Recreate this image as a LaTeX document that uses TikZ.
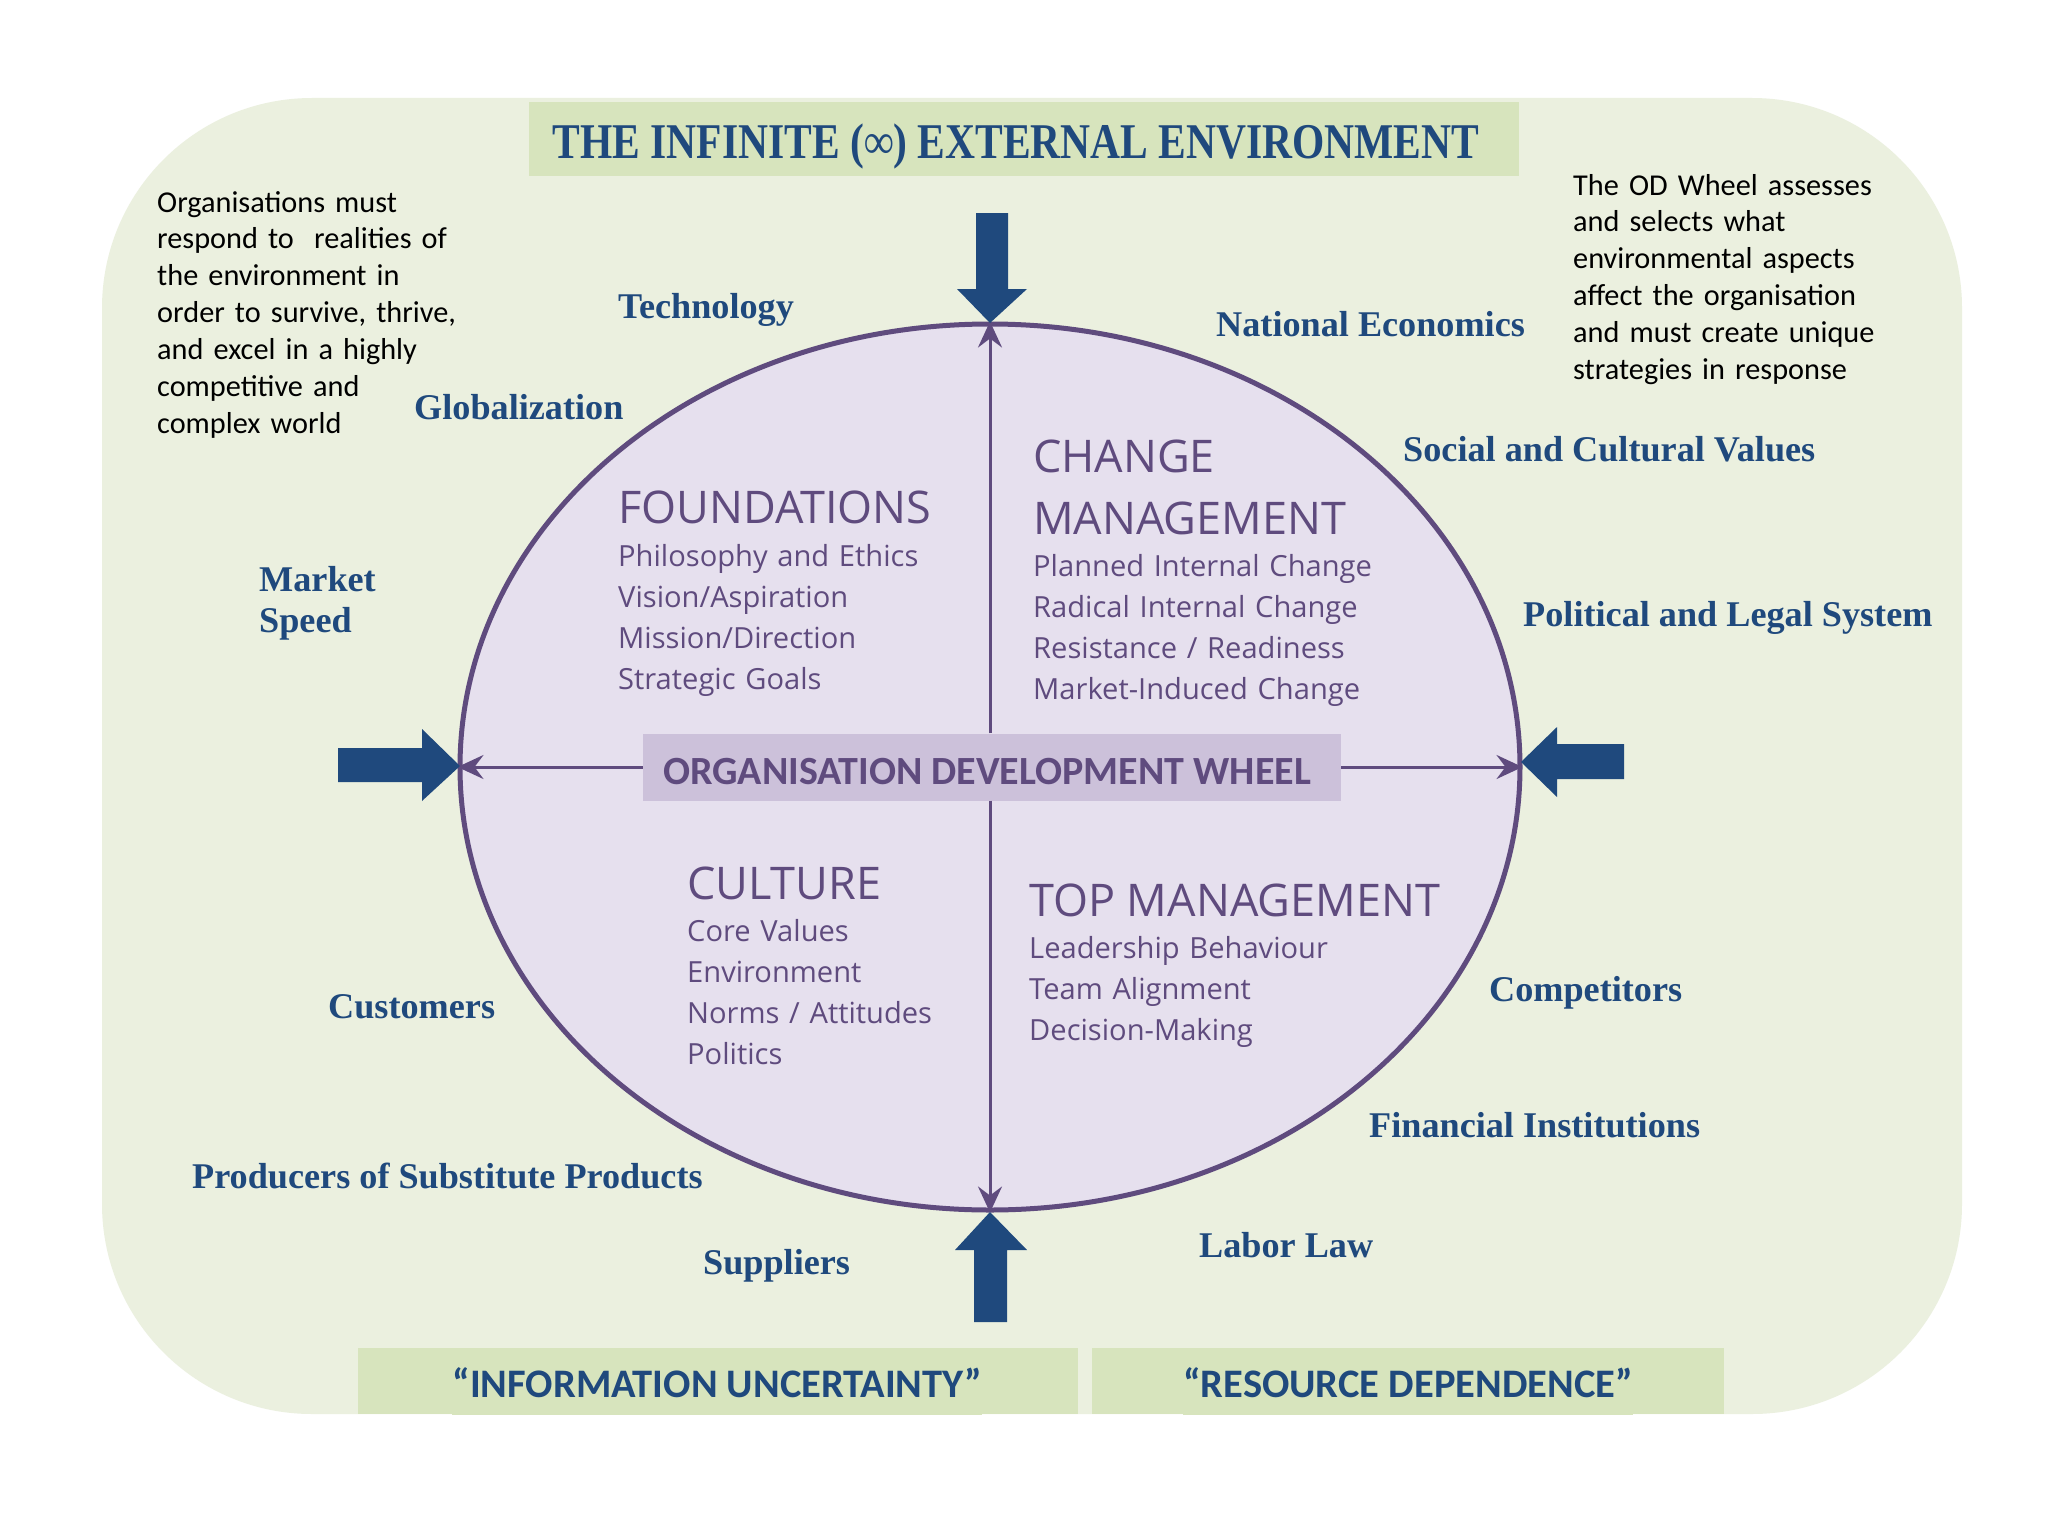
\documentclass[tikz,border=0pt]{standalone}
\usepackage{fontspec}
\usepackage{graphicx}
\usetikzlibrary{arrows.meta,shapes.geometric}
\newfontfamily\cambfont{Liberation Serif}
\newfontfamily\calibfont{Carlito}
\newfontfamily\osfont{Open Sans}
\definecolor{bgcol}{HTML}{EBF0DF}
\definecolor{boxgreen}{HTML}{D7E4BD}
\definecolor{darkblue}{HTML}{1F497D}
\definecolor{wheelfill}{HTML}{E6E0EE}
\definecolor{wheelline}{HTML}{5F4B7E}
\definecolor{labelfill}{HTML}{CCC1DA}
\begin{document}
\begin{tikzpicture}[x=1pt,y=-1pt,
  envlabel/.style={font=\cambfont\bfseries\fontsize{36.2}{41}\selectfont, text=darkblue, inner sep=0pt, anchor=base west},
  bodytext/.style={font=\calibfont\fontsize{30.3}{36.9}\selectfont, text=black, inner sep=0pt, anchor=base west, align=left},
  quadtitle/.style={font=\osfont\fontsize{45}{62}\selectfont, text=wheelline, inner sep=0pt, anchor=base west, align=left},
  quadlist/.style={font=\osfont\fontsize{29.1}{41}\selectfont, text=wheelline, inner sep=0pt, anchor=base west, align=left, text width=440pt},
  greenbox/.style={fill=boxgreen, inner sep=0pt, minimum height=66pt, text=darkblue, font=\calibfont\bfseries\fontsize{40.5}{44}\selectfont},
  blockarrow/.style={fill=darkblue},
  inarrow/.style={draw=wheelline, line width=3pt, -{Stealth[length=26pt,width=24pt,inset=9pt]}}
]
\useasboundingbox (0,0) rectangle (2048,1536);
\fill[white] (0,0) rectangle (2048,1536);
\fill[bgcol, rounded corners=210pt] (102,98) rectangle (1962,1414);

% title
\node[fill=boxgreen, minimum width=990pt, minimum height=74pt, inner sep=0pt] (title) at (1024,139) {};
\node[text=darkblue, inner sep=0pt, anchor=base] (titletext) at (1016,158)
  {\cambfont\bfseries\fontsize{50}{54}\selectfont\scalebox{0.83}[1]{THE INFINITE (∞) EXTERNAL ENVIRONMENT}};

% bottom boxes
\node[greenbox, minimum width=720pt] (info) at (718,1381) {};
\node[greenbox, anchor=base] (infotext) at (717,1397) {“INFORMATION UNCERTAINTY”};
\node[greenbox, minimum width=632pt] (resource) at (1408,1381) {};
\node[greenbox, anchor=base] (restext) at (1408,1397) {“RESOURCE DEPENDENCE”};

% side texts
\node[bodytext, text width=340pt] (lefttext) at (157,212) {Organisations must\\respond to\ \ realities of\\the environment in\\order to survive, thrive,\\and excel in a highly\\competitive and\\complex world};
\node[bodytext, text width=350pt] (righttext) at (1573,195) {The OD Wheel assesses\\and selects what\\environmental aspects\\affect the organisation\\and must create unique\\strategies in response};

% wheel
\node[ellipse, draw=wheelline, fill=wheelfill, line width=5pt, minimum width=1060pt, minimum height=886pt, inner sep=0pt] (wheel) at (990,767) {};

% center label
\node[fill=labelfill, minimum width=698pt, minimum height=67pt, inner sep=0pt] (odw) at (992,767) {};
\node[text=wheelline, inner sep=0pt, anchor=base, font=\calibfont\bfseries\fontsize{40}{44}\selectfont] (odwtext) at (987,784) {ORGANISATION DEVELOPMENT WHEEL};

% inner connectors
\draw[inarrow] (odw.north -| wheel.north) -- (wheel.north);
\draw[inarrow] (odw.south -| wheel.south) -- (wheel.south);
\draw[inarrow] (odw.west) -- (wheel.west);
\draw[inarrow] (odw.east) -- (wheel.east);

% quadrants
\node[quadtitle] (foundT) at (618,523) {FOUNDATIONS};
\node[quadlist] (foundL) at (618,566) {Philosophy and Ethics\\Vision/Aspiration\\Mission/Direction\\Strategic Goals};
\node[quadtitle, text width=440pt] (changeT) at (1033,472) {CHANGE\\MANAGEMENT};
\node[quadlist] (changeL) at (1033,576) {Planned Internal Change\\Radical Internal Change\\Resistance / Readiness\\Market-Induced Change};
\node[quadtitle] (cultT) at (687,899) {CULTURE};
\node[quadlist] (cultL) at (687,941) {Core Values\\Environment\\Norms / Attitudes\\Politics};
\node[quadtitle] (topT) at (1029,916) {TOP MANAGEMENT};
\node[quadlist] (topL) at (1029,958) {Leadership Behaviour\\Team Alignment\\Decision-Making};

% environment labels
\node[envlabel] (tech) at (618,318) {Technology};
\node[envlabel] (glob) at (414,419) {Globalization};
\node[envlabel, align=left, text width=200pt] (market) at (259,591) {Market\\Speed};
\node[envlabel] (cust) at (328,1018) {Customers};
\node[envlabel] (subst) at (192,1188) {Producers of Substitute Products};
\node[envlabel] (supp) at (703,1274) {Suppliers};
\node[envlabel] (labor) at (1199,1257) {Labor Law};
\node[envlabel] (fin) at (1369,1137) {Financial Institutions};
\node[envlabel] (comp) at (1489,1001) {Competitors};
\node[envlabel] (pol) at (1523,626) {Political and Legal System};
\node[envlabel] (soc) at (1403,461) {Social and Cultural Values};
\node[envlabel] (nat) at (1216,336) {National Economics};

% block arrows
\fill[blockarrow] (976,213) -- (1008,213) -- (1008,289) -- (1027,289) -- (990,323) -- (957,289) -- (976,289) -- cycle;
\fill[blockarrow] (974,1322) -- (1007,1322) -- (1007,1250) -- (1027,1250) -- (990,1212) -- (955,1250) -- (974,1250) -- cycle;
\fill[blockarrow] (338,748) -- (422,748) -- (422,729) -- (460,766) -- (422,801) -- (422,782) -- (338,782) -- cycle;
\fill[blockarrow] (1624,744) -- (1557,744) -- (1557,727) -- (1521,762) -- (1557,797) -- (1557,779) -- (1624,779) -- cycle;
\end{tikzpicture}
\end{document}
